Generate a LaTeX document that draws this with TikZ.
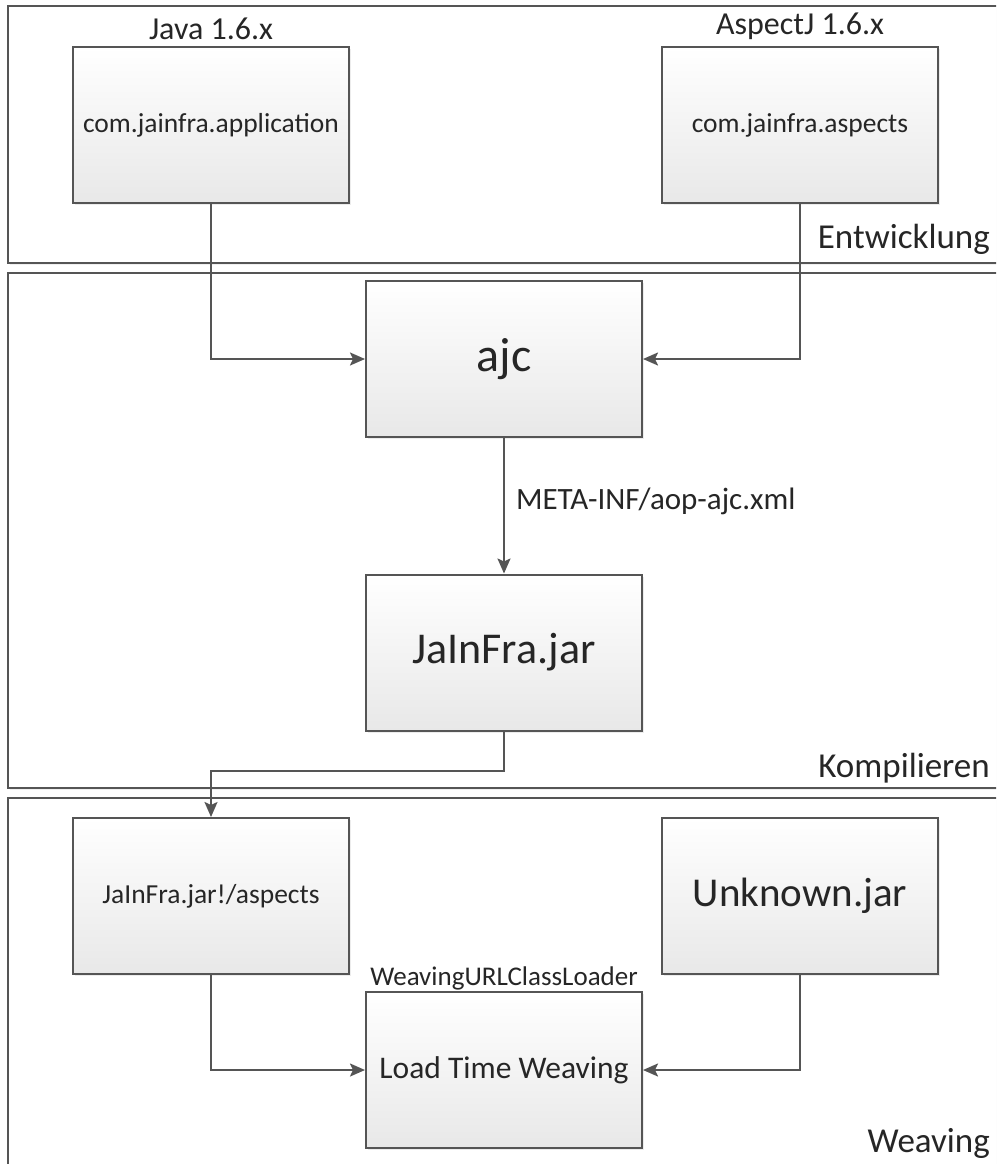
\documentclass[tikz,border=0pt]{standalone}
\usepackage{fontspec}
\setmainfont{Carlito}
\usetikzlibrary{arrows.meta,shadows,positioning}

\definecolor{linegray}{HTML}{555555}
\definecolor{boxgray}{HTML}{E8E8E8}
\newcommand{\pts}[1]{\fontsize{#1}{#1}\selectfont}

\tikzset{
  frame/.style={draw=linegray, line width=2pt, fill=white,
    drop shadow={shadow xshift=2pt, shadow yshift=-2pt, opacity=0.12}},
  box/.style={draw=linegray, line width=2pt, top color=white, bottom color=boxgray,
    minimum width=276pt, minimum height=156pt, text=black!85, font=\pts{27.5},
    drop shadow={shadow xshift=2pt, shadow yshift=-2pt, opacity=0.15}},
  conn/.style={draw=linegray, line width=2pt, -{Stealth[length=15pt,width=13pt,inset=3pt]}},
  toplabel/.style={inner sep=0pt, text=black!85, font=\pts{32}},
  section/.style={inner sep=0pt, text=black!85, font=\pts{35}}
}

\begin{document}
\begin{tikzpicture}[x=1pt,y=-1pt]
    \useasboundingbox (0,0) rectangle (996,1164);
    \clip (0,0) rectangle (996,1164);
    % the three phases
    \draw[frame] (8,6) rectangle (1020,263);
    \draw[frame] (8,273) rectangle (1020,788);
    \draw[frame] (8,798) rectangle (1020,1200);
    \node[section, anchor=base east] (entw) at (990,248) {Entwicklung};
    \node[section, anchor=base east] (komp) at (990,777) {Kompilieren};
    \node[section, anchor=base east] (weav) at (990,1152) {Weaving};

    \node[box] (app) at (211,125) {com.jainfra.application};
    \node[box] (asp) at (800,125) {com.jainfra.aspects};
    \node[toplabel, anchor=base] (javalbl) at (211,40) {Java 1.6.x};
    \node[toplabel, anchor=base] (ajlbl) at (800,35) {AspectJ 1.6.x};

    \node[box, font=\pts{48}] (ajc) at (504,359) {ajc};
    \node[box, font=\pts{44}] (jar) at (504,652.5) {JaInFra.jar};

    \node[box] (aspx) at (211,896) {JaInFra.jar!/aspects};
    \node[box, font=\pts{41}] (unk) at (800,896) {Unknown.jar};
    \node[box, font=\pts{31.5}] (ltw) at (504,1070) {Load Time Weaving};
    \node[inner sep=0pt, text=black!85, font=\pts{27}, anchor=base] (cllbl) at (504,985) {WeavingURLClassLoader};

    \draw[conn] (app.south) |- (ajc.west);
    \draw[conn] (asp.south) |- (ajc.east);
    \draw[conn] (ajc) -- (jar) node[midway, anchor=base west, inner sep=0pt, xshift=11pt, yshift=-4pt, text=black!85, font=\pts{31}] (metalbl) {META-INF/aop-ajc.xml};
    \draw[conn] (jar.south) -- ++(0,39) -| (aspx.north);
    \draw[conn] (aspx.south) |- (ltw.west);
    \draw[conn] (unk.south) |- (ltw.east);
\end{tikzpicture}
\end{document}
